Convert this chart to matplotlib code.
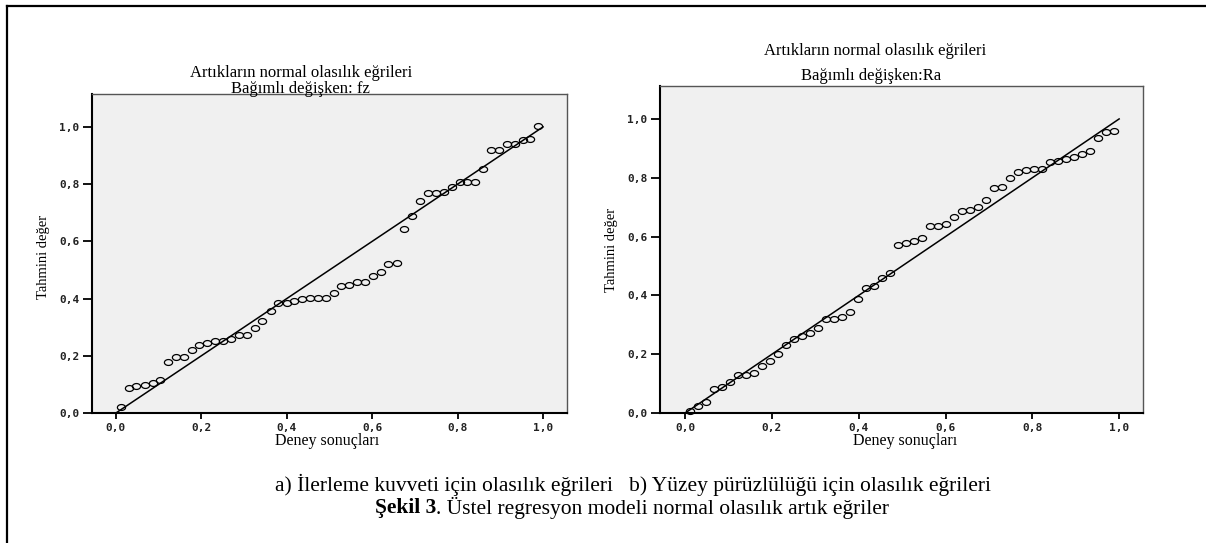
import numpy as np
import matplotlib
matplotlib.use("Agg")
import matplotlib.pyplot as plt
from matplotlib.path import Path
from matplotlib.lines import Line2D
from matplotlib.ticker import FixedLocator, FuncFormatter

# ---------------- data ----------------
fz_x = [0.011, 0.030, 0.048, 0.067, 0.086, 0.104, 0.122, 0.141, 0.159, 0.177,
        0.195, 0.214, 0.232, 0.251, 0.270, 0.288, 0.306, 0.325, 0.343, 0.362,
        0.380, 0.400, 0.418, 0.436, 0.454, 0.473, 0.492, 0.510, 0.528, 0.546,
        0.565, 0.584, 0.603, 0.621, 0.638, 0.657, 0.675, 0.694, 0.713, 0.731,
        0.749, 0.767, 0.786, 0.805, 0.823, 0.841, 0.860, 0.878, 0.897, 0.915,
        0.934, 0.952, 0.970, 0.989]
fz_y = [0.022, 0.086, 0.093, 0.098, 0.106, 0.115, 0.179, 0.195, 0.196, 0.219,
        0.238, 0.246, 0.252, 0.253, 0.259, 0.272, 0.273, 0.298, 0.321, 0.356,
        0.384, 0.386, 0.393, 0.399, 0.401, 0.401, 0.403, 0.420, 0.444, 0.448,
        0.457, 0.458, 0.480, 0.494, 0.521, 0.526, 0.642, 0.690, 0.742, 0.768,
        0.768, 0.774, 0.790, 0.807, 0.809, 0.809, 0.852, 0.919, 0.920, 0.940,
        0.940, 0.955, 0.956, 1.003]

ra_x = [0.010, 0.029, 0.048, 0.067, 0.085, 0.104, 0.121, 0.140, 0.158, 0.177,
        0.196, 0.215, 0.233, 0.251, 0.270, 0.288, 0.306, 0.325, 0.343, 0.362,
        0.380, 0.399, 0.417, 0.435, 0.454, 0.472, 0.491, 0.509, 0.528, 0.546,
        0.565, 0.583, 0.601, 0.620, 0.638, 0.657, 0.675, 0.694, 0.712, 0.730,
        0.749, 0.767, 0.786, 0.804, 0.823, 0.841, 0.859, 0.878, 0.896, 0.915,
        0.933, 0.952, 0.970, 0.988]
ra_y = [0.008, 0.024, 0.037, 0.081, 0.089, 0.106, 0.128, 0.128, 0.136, 0.159,
        0.178, 0.201, 0.232, 0.252, 0.261, 0.273, 0.288, 0.319, 0.319, 0.328,
        0.343, 0.388, 0.424, 0.432, 0.460, 0.476, 0.570, 0.578, 0.585, 0.595,
        0.636, 0.636, 0.644, 0.667, 0.686, 0.690, 0.700, 0.724, 0.765, 0.768,
        0.798, 0.819, 0.827, 0.831, 0.830, 0.854, 0.856, 0.865, 0.872, 0.880,
        0.891, 0.934, 0.956, 0.958]

ref_line = [0.0, 1.0]
ticks = [0.0, 0.2, 0.4, 0.6, 0.8, 1.0]

title_line1 = "Artıkların normal olasılık eğrileri"
title_fz = "Bağımlı değişken: fz"
title_ra = "Bağımlı değişken:Ra"
ylabel = "Tahmini değer"
xlabel = "Deney sonuçları"
caption1 = "a) İlerleme kuvveti için olasılık eğrileri   b) Yüzey pürüzlülüğü için olasılık eğrileri"
caption2_bold = "Şekil 3"
caption2_rest = ". Üstel regresyon modeli normal olasılık artık eğriler"

# ---------------- figure ----------------
W, H = 1206, 543
fig = plt.figure(figsize=(W / 100, H / 100), dpi=100)
fig.patch.set_facecolor("white")

SERIF = ["Liberation Serif", "DejaVu Serif"]
MONO = ["DejaVu Sans Mono"]

def fx(px):
    return px / W

def fy(py):
    return 1 - py / H

# elliptical open marker (reference circles are slightly wider than tall)
th = np.linspace(0, 2 * np.pi, 41)
ell = Path(np.column_stack([np.cos(th), 0.72 * np.sin(th)]), closed=True)

fmt = FuncFormatter(lambda v, p: f"{v:.1f}".replace(".", ","))

def make_axes(box, xlim, ylim, xs, ys):
    left, top, right, bottom = box
    ax = fig.add_axes([fx(left), fy(bottom), fx(right) - fx(left), (bottom - top) / H])
    ax.set_facecolor("#f0f0f0")
    ax.plot(ref_line, ref_line, color="black", lw=1.1, zorder=2)
    ax.plot(xs, ys, linestyle="none", marker=ell, markersize=5.9,
            markerfacecolor="none", markeredgecolor="black", markeredgewidth=0.9,
            zorder=3, clip_on=False)
    ax.set_xlim(*xlim)
    ax.set_ylim(*ylim)
    ax.xaxis.set_major_locator(FixedLocator(ticks))
    ax.yaxis.set_major_locator(FixedLocator(ticks))
    ax.xaxis.set_major_formatter(fmt)
    ax.yaxis.set_major_formatter(fmt)
    for s in ("left", "bottom"):
        ax.spines[s].set_color("black")
        ax.spines[s].set_linewidth(1.5)
    for s in ("top", "right"):
        ax.spines[s].set_color("#555555")
        ax.spines[s].set_linewidth(1.0)
    ax.tick_params(axis="y", direction="out", length=6.2, width=1.3, pad=3.0,
                   labelsize=8)
    ax.tick_params(axis="x", direction="out", length=4.5, width=1.3, pad=2.5,
                   labelsize=8)
    for lab in ax.get_xticklabels() + ax.get_yticklabels():
        lab.set_fontfamily(MONO)
        lab.set_fontweight("bold")
        lab.set_color("#222222")
    return ax

ax1 = make_axes((92, 94, 567, 413), (-0.056, 1.056), (0, 1.115), fz_x, fz_y)
ax2 = make_axes((660, 86, 1143, 413), (-0.058, 1.055), (0, 1.112), ra_x, ra_y)

# titles
TFS = 12
fig.text(fx(301), fy(73), title_line1, family=SERIF, fontsize=TFS, ha="center", va="center")
fig.text(fx(300), fy(89), title_fz, family=SERIF, fontsize=TFS, ha="center", va="center")
fig.text(fx(875), fy(51), title_line1, family=SERIF, fontsize=TFS, ha="center", va="center")
fig.text(fx(871), fy(76), title_ra, family=SERIF, fontsize=TFS, ha="center", va="center")

# axis labels
fig.text(fx(44), fy(257), ylabel, family=SERIF, fontsize=10.5, rotation=90, ha="center", va="center")
fig.text(fx(612), fy(250), ylabel, family=SERIF, fontsize=10.5, rotation=90, ha="center", va="center")
fig.text(fx(327), fy(441), xlabel, family=SERIF, fontsize=11.5, ha="center", va="center")
fig.text(fx(905), fy(441), xlabel, family=SERIF, fontsize=11.5, ha="center", va="center")

# caption
CFS = 15.5
fig.text(fx(633), fy(485), caption1, family=SERIF, fontsize=CFS, ha="center", va="center")
t_b = fig.text(fx(0), fy(508), caption2_bold, family=SERIF, fontsize=CFS,
               fontweight="bold", ha="left", va="center")
t_r = fig.text(fx(0), fy(508), caption2_rest, family=SERIF, fontsize=CFS, ha="left", va="center")
fig.canvas.draw()
bw = t_b.get_window_extent().width
rw = t_r.get_window_extent().width
x0 = 632 - (bw + rw) / 2
t_b.set_x(x0 / W)
t_r.set_x((x0 + bw) / W)

# page frame (left and top edges visible)
fig.add_artist(Line2D([fx(7), fx(7)], [fy(6), 0], transform=fig.transFigure,
                      color="black", lw=1.6))
fig.add_artist(Line2D([fx(7), 1], [fy(6), fy(6)], transform=fig.transFigure,
                      color="black", lw=1.6))

fig.savefig("out.png", dpi=100, facecolor="white")
